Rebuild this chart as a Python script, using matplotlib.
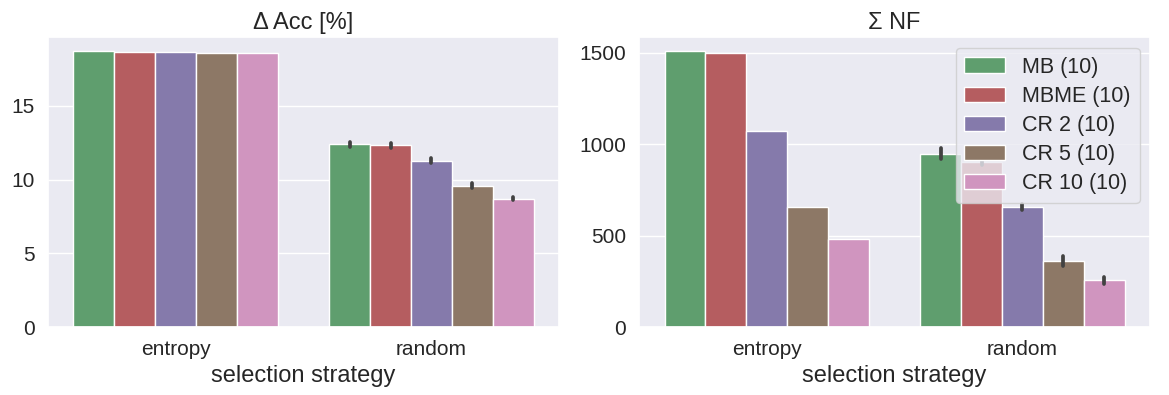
import matplotlib
matplotlib.use("Agg")
from matplotlib import pyplot as plt
import seaborn as sns
import numpy as np

strategies = ["entropy", "random"]
methods = ["MB (10)", "MBME (10)", "CR 2 (10)", "CR 5 (10)", "CR 10 (10)"]

# delta accuracy [%], one list per method: [entropy, random]
acc_mean = [
    [18.72, 12.38],
    [18.66, 12.31],
    [18.64, 11.28],
    [18.60, 9.58],
    [18.58, 8.70],
]
acc_err = [
    [0.0, 0.15],
    [0.0, 0.15],
    [0.0, 0.18],
    [0.0, 0.18],
    [0.0, 0.10],
]

# summed number of features
nf_mean = [
    [1511, 949],
    [1502, 903],
    [1075, 656],
    [656, 360],
    [481, 255],
]
nf_err = [
    [0, 32],
    [0, 15],
    [0, 15],
    [0, 28],
    [0, 18],
]

sns.set_theme(style="darkgrid", context="notebook")
plt.rcParams['font.family'] = ['Liberation Sans', 'DejaVu Sans']

colors = [sns.desaturate(c, 0.75) for c in sns.color_palette("deep")[2:7]]

fig, axes = plt.subplots(1, 2, figsize=(11.69, 3.95), dpi=100)

def draw(ax, means, errs, title):
    n = len(methods)
    w = 0.8 / n
    x = np.arange(len(strategies))
    for i, m in enumerate(methods):
        pos = x - 0.4 + w * (i + 0.5)
        ax.bar(pos, means[i], width=w, color=colors[i], edgecolor="white",
               linewidth=1, label=m)
        e = np.array(errs[i], dtype=float)
        mask = e > 0
        eb = ax.errorbar(pos[mask], np.array(means[i])[mask], yerr=e[mask], fmt="none",
                         ecolor="#424242", elinewidth=2.7, capsize=0)
        for lc in eb[2]:
            lc.set_capstyle("round")
    ax.set_xticks(x)
    ax.set_xticklabels(strategies)
    ax.set_xlim(-0.5, 1.5)
    ax.xaxis.grid(False)
    ax.tick_params(labelsize=15)
    ax.set_xlabel("selection strategy", fontsize=17)
    ax.set_ylabel("")
    ax.set_title(title, fontsize=17)

draw(axes[0], acc_mean, acc_err, "Δ Acc [%]")
axes[0].set_yticks([0, 5, 10, 15])
draw(axes[1], nf_mean, nf_err, "Σ NF")
axes[1].set_yticks([0, 500, 1000, 1500])
axes[1].legend(loc="upper right", fontsize=15.5, handlelength=1.9,
               labelspacing=0.38)

plt.subplots_adjust(left=0.041, right=0.984, top=0.906, bottom=0.172, wspace=0.156)
plt.savefig("out.png")
